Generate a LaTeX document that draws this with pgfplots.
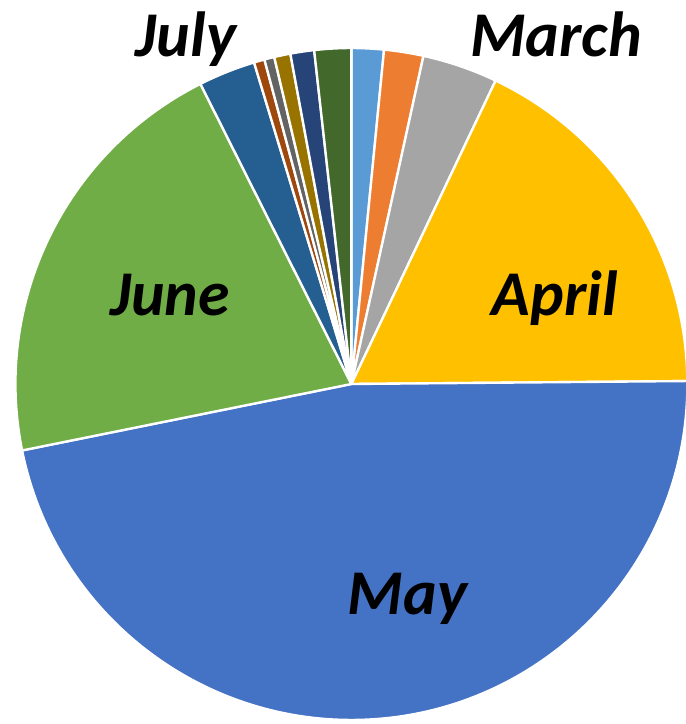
\documentclass[border=0pt]{standalone}
\usepackage{fontspec}
\setmainfont{Carlito}
\usepackage{pgfplots}
\usepackage{pgfplotstable}
\pgfplotsset{compat=1.18}
\definecolor{pie0}{HTML}{5B9BD5}
\definecolor{pie1}{HTML}{ED7D31}
\definecolor{pie2}{HTML}{A5A5A5}
\definecolor{pie3}{HTML}{FFC000}
\definecolor{pie4}{HTML}{4472C4}
\definecolor{pie5}{HTML}{70AD47}
\definecolor{pie6}{HTML}{255E91}
\definecolor{pie7}{HTML}{9E480E}
\definecolor{pie8}{HTML}{636363}
\definecolor{pie9}{HTML}{997300}
\definecolor{pie10}{HTML}{264478}
\definecolor{pie11}{HTML}{43682B}
\pgfplotstableread{
month value
January 1.55
February 1.89
March 3.62
April 17.80
May 46.97
June 20.75
July 2.74
August 0.51
September 0.48
October 0.78
November 1.14
December 1.77
}\piedata
\begin{document}
\begin{tikzpicture}
\gdef\pieacc{0}
\foreach \i in {0,...,11}{%
  \pgfplotstablegetelem{\i}{value}\of\piedata
  \pgfmathsetmacro\pa{90-3.6*\pieacc}
  \pgfmathsetmacro\pt{\pieacc+\pgfplotsretval}
  \pgfmathsetmacro\pb{90-3.6*\pt}
  \expandafter\xdef\csname pieA\i\endcsname{\pa}
  \expandafter\xdef\csname pieB\i\endcsname{\pb}
  \xdef\pieacc{\pt}
}
\begin{axis}[x=5cm,y=5cm,xmin=-1.046,xmax=0.9955,ymin=-1.012,ymax=1.143,hide axis,clip=true]
\path (axis cs:-1.046,-1.012) rectangle (axis cs:0.9955,1.143);
\pgfplotsinvokeforeach{0,...,11}{
  \fill[pie#1, draw=white, line width=1pt] (axis cs:0,0) -- ++(\csname pieA#1\endcsname:5cm)
    arc[start angle=\csname pieA#1\endcsname, end angle=\csname pieB#1\endcsname, radius=5cm] -- cycle;
}
\tikzset{lbl/.style={anchor=base, font=\fontsize{27}{29}\selectfont\bfseries\itshape, inner sep=0pt}}
\node[lbl] at (axis cs:-0.4926,0.974) {July};
\node[lbl] at (axis cs:0.6086,0.974) {March};
\node[lbl] at (axis cs:0.6057,0.2024) {April};
\node[lbl] at (axis cs:-0.540,0.2024) {June};
\node[lbl] at (axis cs:0.1667,-0.6875) {May};
\end{axis}
\end{tikzpicture}
\end{document}
